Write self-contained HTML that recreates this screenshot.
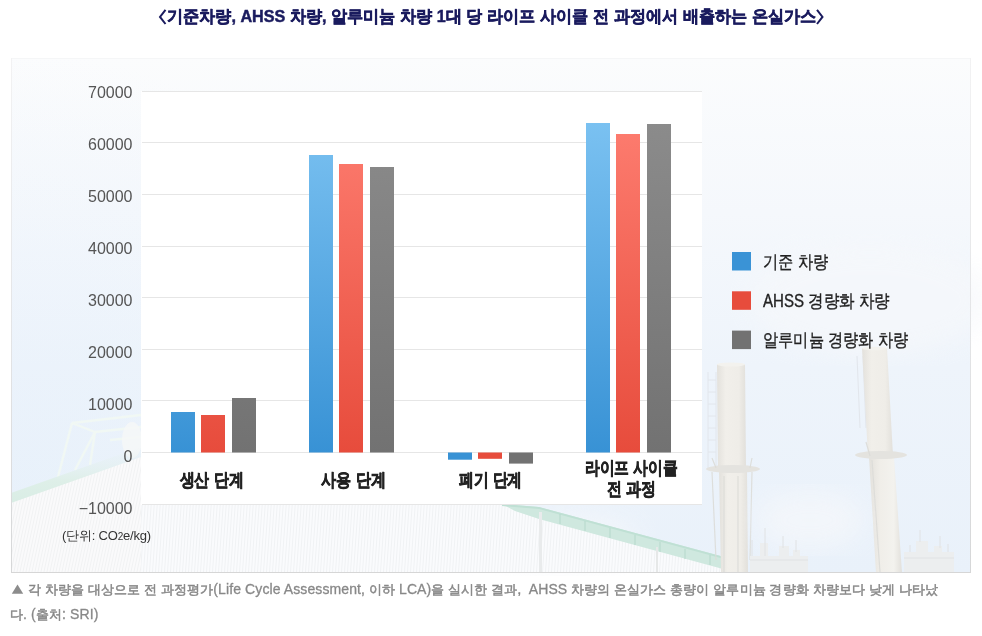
<!DOCTYPE html>
<html><head><meta charset="utf-8">
<style>
html,body{margin:0;padding:0;background:#fff;}
body{width:982px;height:636px;position:relative;overflow:hidden;font-family:"Liberation Sans",sans-serif;}
.cap{position:absolute;left:10px;font-size:13.2px;color:#888;white-space:nowrap;line-height:20px;font-weight:normal;-webkit-text-stroke:0.5px #888;letter-spacing:0.1px;}
svg{position:absolute;left:0;top:0;will-change:transform;}
.cap{will-change:transform;}
.cap .n{font-size:14px;-webkit-text-stroke:0.3px #888;}
</style></head>
<body>


<svg width="982" height="636" viewBox="0 0 982 636">
<defs>
<linearGradient id="sky" x1="0" y1="57" x2="0" y2="573" gradientUnits="userSpaceOnUse">
<stop offset="0" stop-color="#fbfcfd"/>
<stop offset="0.3" stop-color="#f5f8fc"/>
<stop offset="0.6" stop-color="#eef4fb"/>
<stop offset="1" stop-color="#e9f1fa"/>
</linearGradient>
<linearGradient id="gb" x1="0" y1="123" x2="0" y2="452" gradientUnits="userSpaceOnUse">
<stop offset="0" stop-color="#7ac1f1"/><stop offset="1" stop-color="#3892d5"/></linearGradient>
<linearGradient id="gr" x1="0" y1="123" x2="0" y2="452" gradientUnits="userSpaceOnUse">
<stop offset="0" stop-color="#fd7c6f"/><stop offset="1" stop-color="#e74c3c"/></linearGradient>
<linearGradient id="gg" x1="0" y1="123" x2="0" y2="452" gradientUnits="userSpaceOnUse">
<stop offset="0" stop-color="#8b8b8b"/><stop offset="1" stop-color="#727272"/></linearGradient>
<pattern id="hatch" width="3" height="10" patternUnits="userSpaceOnUse" patternTransform="skewX(-12)">
<rect width="3" height="10" fill="#fafafb"/><rect width="1" height="10" fill="#f1f2f3"/></pattern>
<linearGradient id="skyh" x1="11" y1="0" x2="971" y2="0" gradientUnits="userSpaceOnUse">
<stop offset="0" stop-color="#e6eefa" stop-opacity="0.35"/><stop offset="0.15" stop-color="#e6eefa" stop-opacity="0"/>
<stop offset="0.85" stop-color="#ffffff" stop-opacity="0"/><stop offset="1" stop-color="#ffffff" stop-opacity="0.2"/></linearGradient>
<linearGradient id="chim" x1="0" y1="0" x2="1" y2="0">
<stop offset="0" stop-color="#e3e1dc"/><stop offset="0.3" stop-color="#f1efea"/><stop offset="0.75" stop-color="#efede8"/><stop offset="1" stop-color="#e2e0db"/></linearGradient>
<linearGradient id="chim2" x1="0" y1="0" x2="1" y2="0">
<stop offset="0" stop-color="#e3e1dc"/><stop offset="0.35" stop-color="#f0eee9"/><stop offset="0.75" stop-color="#f3f2ee"/><stop offset="1" stop-color="#e2e0db"/></linearGradient>
<pattern id="vstripe" width="3" height="10" patternUnits="userSpaceOnUse" patternTransform="skewX(-4)">
<rect width="3" height="10" fill="#fafbfd"/><rect width="1" height="10" fill="#f0f2f4"/></pattern>
<linearGradient id="band" x1="0" y1="0" x2="0" y2="1">
<stop offset="0" stop-color="#e7f1f2" stop-opacity="0"/><stop offset="0.6" stop-color="#deefe8"/><stop offset="1" stop-color="#d9ede5"/></linearGradient>
<radialGradient id="bl" cx="11" cy="470" r="420" gradientUnits="userSpaceOnUse">
<stop offset="0" stop-color="#e4effb" stop-opacity="0.4"/><stop offset="1" stop-color="#e4effb" stop-opacity="0"/></radialGradient>
<linearGradient id="bord" x1="0" y1="58" x2="0" y2="573" gradientUnits="userSpaceOnUse">
<stop offset="0" stop-color="#f2f2f3"/><stop offset="0.5" stop-color="#e4e5e7"/><stop offset="1" stop-color="#d6d7d8"/></linearGradient>
<filter id="blur1"><feGaussianBlur stdDeviation="0.6"/></filter>
<filter id="blur8"><feGaussianBlur stdDeviation="12"/></filter>
</defs>

<!-- title -->
<text x="491.6" y="22.2" font-family="Liberation Sans, sans-serif" font-size="17" font-weight="bold" fill="#1a1b5e" stroke="#1a1b5e" stroke-width="0.5" text-anchor="middle" textLength="649.5" lengthAdjust="spacingAndGlyphs">기준차량, AHSS 차량, 알루미늄 차량 1대 당 라이프 사이클 전 과정에서 배출하는 온실가스</text>
<polyline points="165.5,9.8 160,16.9 165.5,24" fill="none" stroke="#1a1b5e" stroke-width="2" stroke-linejoin="miter"/>
<polyline points="817,9.8 822.5,16.9 817,24" fill="none" stroke="#1a1b5e" stroke-width="2" stroke-linejoin="miter"/>
<!-- background panel -->
<rect x="11" y="58" width="960" height="515" fill="url(#sky)"/>
<rect x="11" y="58" width="960" height="515" fill="url(#bl)"/>
<ellipse cx="870" cy="300" rx="120" ry="55" fill="#f6f8fb" opacity="0.7" filter="url(#blur8)"/>
<ellipse cx="560" cy="540" rx="80" ry="30" fill="#f6f8fb" opacity="0.6" filter="url(#blur8)"/>
<!-- left roof truss (faint) -->
<g stroke="#f1f8f4" stroke-width="2.4" fill="none" filter="url(#blur1)">
<path d="M72,423 L141,415"/><path d="M72,423 L58,477"/><path d="M72,423 L95,432 L141,427"/><path d="M95,432 L75,470"/><path d="M95,432 L90,465"/><path d="M110,440 L141,437"/>
</g>
<ellipse cx="132" cy="440" rx="10" ry="18" fill="#f6f8f8" opacity="0.8"/>
<!-- left roof edge band -->
<polygon points="11,493 141,447 141,458 11,504" fill="url(#band)"/>
<!-- left wall -->
<polygon points="11,503 141,457 141,573 11,573" fill="url(#hatch)"/>
<!-- wall under plot -->
<polygon points="141,505 508,505 541,508 737,562 737,573 141,573" fill="url(#vstripe)"/>
<!-- gutter -->
<polygon points="502,504 539,507 739,561 739,572 734,572 539,519 515,511" fill="#cfe8df"/>
<polygon points="502,504 539,507 739,561 739,563 539,509 502,506" fill="#bfe0d4"/>
<g stroke="#b5d8cb" stroke-width="1"><path d="M560,514 v10 M585,521 v10 M610,528 v10 M635,535 v10 M660,542 v10 M685,549 v10 M710,555 v10"/></g>
<rect x="539" y="512" width="3" height="60" fill="#e9ebec"/>
<rect x="656" y="547" width="2" height="25" fill="#e6e8e8"/>
<!-- chimneys -->
<g stroke="#e2e6ec" stroke-width="1" fill="none">
<path d="M708,372 V470 M716,372 V470 M708,380 H716 M708,392 H716 M708,404 H716 M708,416 H716 M708,428 H716 M708,440 H716 M708,452 H716"/>
<path d="M857,356 L860,428 M863,356 L866,428"/>
</g>
<polygon points="717,364 745,364 746,470 718,470" fill="url(#chim)"/>
<ellipse cx="731" cy="364.5" rx="14" ry="2" fill="#f3f2ee"/>
<polygon points="719,470 747,470 748,573 721,573" fill="url(#chim)"/>
<ellipse cx="733" cy="469" rx="27" ry="4" fill="#e4e3df"/>
<g stroke="#dcdcd8" stroke-width="1.2" fill="none" opacity="0.9">
<path d="M712,472 L716,560 M752,472 L750,560 M724,476 V572 M738,476 V572"/>
<path d="M712,458 L716,468 M752,458 L750,468"/>
</g>
<polygon points="862,348 887,348 893,456 868,456" fill="url(#chim)"/>
<ellipse cx="874.5" cy="348.5" rx="12.5" ry="1.8" fill="#f3f2ee"/>
<polygon points="869,457 894,457 902,573 876,573" fill="url(#chim2)"/>
<ellipse cx="881" cy="455" rx="26" ry="4" fill="#e4e3df"/>
<g stroke="#dcdcd8" stroke-width="1.2" fill="none" opacity="0.9">
<path d="M872,460 L880,572 M866,442 L870,456"/>
</g>
<!-- bottom-right structures -->
<ellipse cx="810" cy="520" rx="55" ry="30" fill="#f4f7fb" opacity="0.8" filter="url(#blur8)"/>
<g fill="#eceeef">
<rect x="750" y="556" width="58" height="16"/><rect x="760" y="543" width="8" height="14"/><rect x="779" y="546" width="10" height="12"/><rect x="793" y="550" width="7" height="8"/>
<rect x="904" y="552" width="50" height="20"/><rect x="916" y="541" width="12" height="12"/><rect x="934" y="546" width="8" height="8"/>
</g>
<g stroke="#e0e2e4" stroke-width="1" fill="none">
<path d="M765,528 V556 M783,536 V548 M796,540 V552 M752,540 V556 M920,530 V542 M940,536 V548 M910,545 V552 M948,544 V552"/>
<path d="M750,560 H808 M904,558 H954"/>
</g>
<!-- panel border -->
<rect x="11" y="58" width="960" height="1" fill="#f5f6f7"/>
<rect x="11" y="58" width="1" height="515" fill="url(#bord)"/>
<rect x="970" y="58" width="1" height="515" fill="url(#bord)"/>
<rect x="11" y="572" width="960" height="1" fill="#d6d6d6"/>

<!-- plot area -->
<rect x="141" y="91" width="561" height="414" fill="#fff"/>
<g fill="#e6e6e6">
<rect x="142" y="91" width="560" height="1"/>
<rect x="142" y="142" width="560" height="1"/>
<rect x="142" y="194" width="560" height="1"/>
<rect x="142" y="246" width="560" height="1"/>
<rect x="142" y="297" width="560" height="1"/>
<rect x="142" y="349" width="560" height="1"/>
<rect x="142" y="400" width="560" height="1"/>
<rect x="142" y="452" width="560" height="1"/>
<rect x="142" y="504" width="560" height="1"/>
</g>

<!-- bars -->
<rect x="171" y="412" width="24" height="40.5" fill="url(#gb)"/>
<rect x="201" y="415" width="24" height="37.5" fill="url(#gr)"/>
<rect x="232" y="398" width="24" height="54.5" fill="url(#gg)"/>

<rect x="309" y="155" width="24" height="297.5" fill="url(#gb)"/>
<rect x="339" y="164" width="24" height="288.5" fill="url(#gr)"/>
<rect x="370" y="167" width="24" height="285.5" fill="url(#gg)"/>

<rect x="448" y="452.5" width="24" height="7.2" fill="#3892d5"/>
<rect x="478" y="452.5" width="24" height="6.3" fill="#e74c3c"/>
<rect x="509" y="452.5" width="24" height="11.1" fill="#727272"/>

<rect x="586" y="123" width="24" height="329.5" fill="url(#gb)"/>
<rect x="616" y="134" width="24" height="318.5" fill="url(#gr)"/>
<rect x="647" y="124" width="24" height="328.5" fill="url(#gg)"/>

<!-- y labels -->
<g font-family="Liberation Sans, sans-serif" font-size="16" fill="#555" text-anchor="end">
<text x="132.5" y="98.3">70000</text>
<text x="132.5" y="150.2">60000</text>
<text x="132.5" y="202.0">50000</text>
<text x="132.5" y="254.0">40000</text>
<text x="132.5" y="306.0">30000</text>
<text x="132.5" y="357.9">20000</text>
<text x="132.5" y="409.8">10000</text>
<text x="132.5" y="461.8">0</text>
<text x="132.5" y="513.8">&#8722;10000</text>
</g>

<!-- category labels -->
<g font-family="Liberation Sans, sans-serif" font-size="18" font-weight="bold" fill="#222" stroke="#222" stroke-width="0.6" text-anchor="middle">
<text x="211.5" y="485.8" textLength="64" lengthAdjust="spacingAndGlyphs">생산 단계</text>
<text x="353.5" y="485.8" textLength="64.5" lengthAdjust="spacingAndGlyphs">사용 단계</text>
<text x="490.6" y="485.8" textLength="63.5" lengthAdjust="spacingAndGlyphs">폐기 단계</text>
<text x="631.2" y="473.9" textLength="93" lengthAdjust="spacingAndGlyphs">라이프 사이클</text>
<text x="631.2" y="494.6" textLength="49" lengthAdjust="spacingAndGlyphs">전 과정</text>
</g>

<!-- unit -->
<text x="62" y="539.8" font-family="Liberation Sans, sans-serif" font-size="13" fill="#333" letter-spacing="-0.2">(단위: CO<tspan font-size="10">2</tspan>e/kg)</text>

<!-- legend -->
<rect x="732" y="252" width="19" height="18.5" fill="#3a93d6"/>
<rect x="732" y="291.3" width="19" height="18.5" fill="#e74c3c"/>
<rect x="732" y="330.6" width="19" height="18.5" fill="#727272"/>
<g font-family="Liberation Sans, sans-serif" font-size="17.5" fill="#222" stroke="#222" stroke-width="0.35" lengthAdjust="spacingAndGlyphs">
<text x="763" y="267.6" textLength="65" lengthAdjust="spacingAndGlyphs">기준 차량</text>
<text x="763" y="306.9" textLength="127" lengthAdjust="spacingAndGlyphs">AHSS 경량화 차량</text>
<text x="763" y="346.2" textLength="145" lengthAdjust="spacingAndGlyphs">알루미늄 경량화 차량</text>
</g>
<polygon points="11.8,593.8 23.2,593.8 17.5,584.6" fill="#8c8c8c"/>
</svg>

<div class="cap" style="top:578.5px;left:28px;">각 차량을 대상으로 전 과정평가<span class="n">(Life Cycle Assessment, </span>이하 <span class="n">LCA)</span>을 실시한 결과,&nbsp; <span class="n">AHSS</span> 차량의 온실가스 총량이 알루미늄 경량화 차량보다 낮게 나타났</div>
<div class="cap" style="top:603.5px;">다<span class="n">. (</span>출처<span class="n">: SRI)</span></div>
</body></html>
